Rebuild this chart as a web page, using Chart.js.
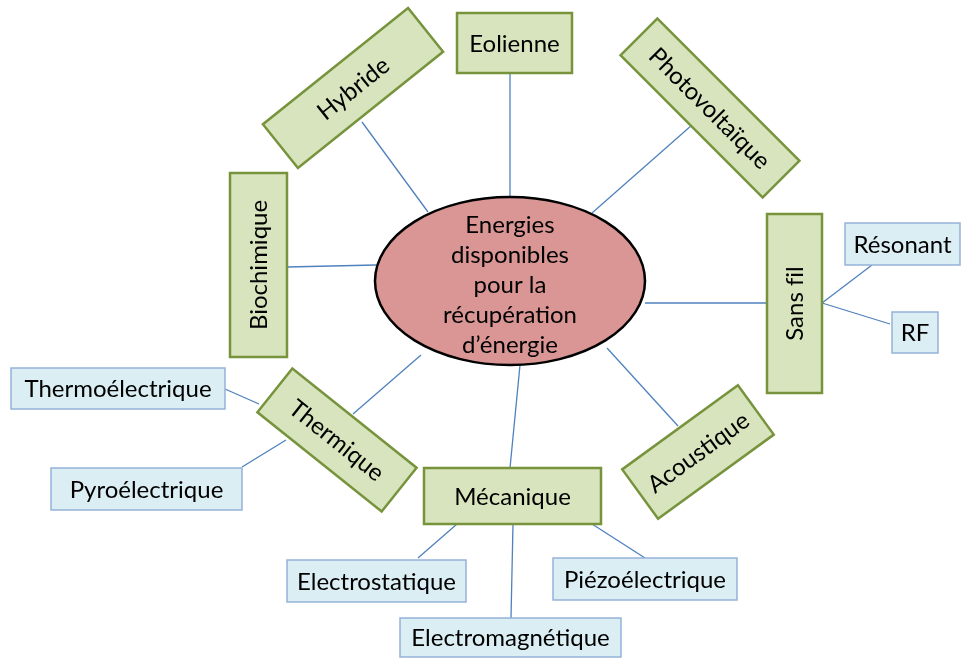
<!DOCTYPE html>
<html><head><meta charset="utf-8">
<script src="https://cdn.jsdelivr.net/npm/chart.js@4/dist/chart.umd.min.js"></script>
<style>html,body{margin:0;padding:0;background:#fff;}#c{display:block}</style>
</head><body>
<canvas id="c" width="961" height="659"></canvas>
<script>
// Nodes of the mind map
const nodeLabels = [
  ["Energies","disponibles","pour la","récupération","d’énergie"],
  ["Eolienne"],["Hybride"],["Photovoltaïque"],["Sans fil"],["Biochimique"],
  ["Thermique"],["Mécanique"],["Acoustique"],
  ["Résonant"],["RF"],["Thermoélectrique"],["Pyroélectrique"],
  ["Piézoélectrique"],["Electromagnétique"],["Electrostatique"]
];
const nodeKind  = ["root","main","main","main","main","main","main","main","main",
                   "sub","sub","sub","sub","sub","sub","sub"];
const nodeX     = [510, 514.5, 353, 710, 794.5, 258.5, 337, 512.5, 698, 902.5, 915, 118, 146.5, 645, 510.5, 376.5];
const nodeY     = [281, 43, 88, 108, 303.5, 265, 440, 496, 452, 244, 332.5, 388.5, 489, 579, 637.5, 581];
const nodeW     = [270, 115, 186, 201, 179, 184, 159, 177, 143, 115, 46, 214, 191, 184, 221, 179];
const nodeH     = [168, 60, 56, 52, 55, 57, 56, 56, 61, 42, 41, 41, 42, 42, 39, 42];
const nodeAngle = [0, 0, -38.7, 45, -90, -90, 38.6, 0, -36, 0, 0, 0, 0, 0, 0, 0];

// Connectors (start / end points)
const edgeX1 = [510, 362, 692, 645, 287, 353, 520, 607, 822, 822, 225, 242, 592, 457, 513];
const edgeY1 = [73, 122, 125, 303, 267, 414, 365, 348, 303, 303, 389, 467, 524, 524, 524];
const edgeX2 = [510, 428, 592, 767, 376, 421, 510, 678, 872, 890, 259, 286, 645, 418, 511];
const edgeY2 = [198, 212, 213, 303, 265, 355, 468, 426, 265, 324, 404, 440, 558, 558, 618];

const STYLE = {
  root: {fill:'#d99694', stroke:'#000000', lw:2.5},
  main: {fill:'#d7e4bd', stroke:'#77933c', lw:2.5},
  sub:  {fill:'#dbeef4', stroke:'#95b3d7', lw:1.5}
};
const FONT = '24px Lato, "Open Sans", sans-serif';

const datasets = edgeX1.map((x1, i) => ({
  data: [{x: x1, y: edgeY1[i]}, {x: edgeX2[i], y: edgeY2[i]}],
  showLine: true, borderColor: '#4f81bd', borderWidth: 1.3,
  pointRadius: 0, pointHoverRadius: 0, fill: false
}));

const nodePlugin = {
  id: 'nodes',
  afterDatasetsDraw(chart) {
    const ctx = chart.ctx, sx = chart.scales.x, sy = chart.scales.y;
    nodeLabels.forEach((lines, i) => {
      const cx = sx.getPixelForValue(nodeX[i]);
      const cy = sy.getPixelForValue(nodeY[i]);
      const w = Math.abs(sx.getPixelForValue(nodeW[i]) - sx.getPixelForValue(0));
      const h = Math.abs(sy.getPixelForValue(nodeH[i]) - sy.getPixelForValue(0));
      const st = STYLE[nodeKind[i]];
      ctx.save();
      ctx.translate(cx, cy);
      ctx.rotate(nodeAngle[i] * Math.PI / 180);
      ctx.beginPath();
      if (nodeKind[i] === 'root') ctx.ellipse(0, 0, w / 2, h / 2, 0, 0, Math.PI * 2);
      else ctx.rect(-w / 2, -h / 2, w, h);
      ctx.fillStyle = st.fill; ctx.fill();
      ctx.lineWidth = st.lw; ctx.strokeStyle = st.stroke; ctx.lineJoin = 'miter'; ctx.stroke();
      ctx.fillStyle = '#000';
      ctx.font = FONT; ctx.textAlign = 'center'; ctx.textBaseline = 'middle';
      const lh = 30, off = -(lines.length - 1) * lh / 2 + (lines.length > 1 ? 4 : 1);
      lines.forEach((t, k) => ctx.fillText(t.replace(/fi/g, 'f\u200Ci'), 0, off + k * lh));
      ctx.restore();
    });
  }
};

new Chart(document.getElementById('c'), {
  type: 'scatter',
  data: { datasets },
  options: {
    responsive: false, animation: false,
    layout: { padding: 0 },
    plugins: { legend: { display: false }, tooltip: { enabled: false } },
    scales: {
      x: { type: 'linear', min: 0, max: 961, display: false },
      y: { type: 'linear', min: 0, max: 659, reverse: true, display: false }
    }
  },
  plugins: [nodePlugin]
});
</script>
</body></html>
